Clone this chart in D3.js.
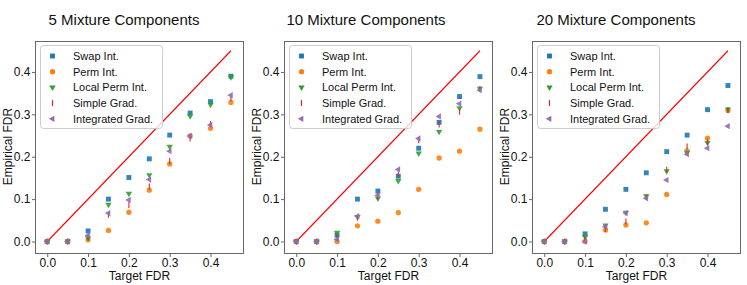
<!DOCTYPE html>
<html><head><meta charset="utf-8">
<script src="https://cdn.jsdelivr.net/npm/d3@7/dist/d3.min.js"></script>
<style>body{margin:0;background:#fff}svg{display:block;font-family:"Liberation Sans",Arial,sans-serif}</style>
</head><body><svg id="c" width="747" height="285"></svg>
<script>
// ---- data ----
const targetFDR = [0, 0.05, 0.1, 0.15, 0.2, 0.25, 0.3, 0.35, 0.4, 0.45];
const panelTitles = ["5 Mixture Components", "10 Mixture Components", "20 Mixture Components"];
const seriesNames = ["Swap Int.", "Perm Int.", "Local Perm Int.", "Simple Grad.", "Integrated Grad."];
const xTicks = [0, 0.1, 0.2, 0.3, 0.4];
const yTicks = [0, 0.1, 0.2, 0.3, 0.4];

// 5 mixture components
const swap5   = [0, 0, 0.025, 0.100, 0.151, 0.195, 0.251, 0.303, 0.330, 0.390];
const perm5   = [0, 0, 0.004, 0.026, 0.069, 0.121, 0.183, 0.249, 0.267, 0.328];
const local5  = [0, 0, 0.008, 0.087, 0.113, 0.157, 0.224, 0.296, 0.323, 0.388];
const simple5 = [0, 0, 0.012, 0.063, 0.086, 0.130, 0.190, 0.243, 0.277, 0.338];
const integ5  = [0, 0, 0.014, 0.067, 0.098, 0.146, 0.213, 0.249, 0.275, 0.345];
// 10 mixture components
const swap10   = [0, 0, 0.015, 0.100, 0.119, 0.154, 0.220, 0.281, 0.342, 0.389];
const perm10   = [0, 0, 0.000, 0.037, 0.048, 0.068, 0.123, 0.197, 0.213, 0.265];
const local10  = [0, 0, 0.021, 0.058, 0.102, 0.143, 0.208, 0.259, 0.315, 0.361];
const simple10 = [0, 0, 0.010, 0.056, 0.107, 0.158, 0.239, 0.276, 0.306, 0.360];
const integ10  = [0, 0, 0.005, 0.060, 0.109, 0.170, 0.243, 0.295, 0.325, 0.357];
// 20 mixture components
const swap20   = [0, 0, 0.018, 0.076, 0.123, 0.162, 0.212, 0.251, 0.311, 0.368];
const perm20   = [0, 0, 0.000, 0.027, 0.039, 0.044, 0.111, 0.214, 0.244, 0.309];
const local20  = [0, 0, 0.011, 0.038, 0.068, 0.107, 0.166, 0.210, 0.233, 0.312];
const simple20 = [0, 0, 0.005, 0.030, 0.047, 0.105, 0.169, 0.224, 0.235, 0.310];
const integ20  = [0, 0, 0.000, 0.035, 0.067, 0.102, 0.145, 0.206, 0.220, 0.272];

const panelData = [
  [swap5, perm5, local5, simple5, integ5],
  [swap10, perm10, local10, simple10, integ10],
  [swap20, perm20, local20, simple20, integ20]
];
const colors = ["#1f77b4", "#ff7f0e", "#2ca02c", "#d62728", "#9467bd"];
const diagonal = [0, 0.45];

// ---- layout ----
const svg = d3.select("#c");
const panelLeft = [35, 284, 532];
const panelW = 209, plotTop = 41, plotBottom = 254;
const titleX = [124, 366, 616];
const frameColor = "#666";

function marker(g, k, x, y, color) {
  if (k === 3) {
    g.append("line").attr("x1", x).attr("x2", x).attr("y1", y - 3).attr("y2", y + 3)
      .attr("stroke", color).attr("stroke-width", 1.2);
    return;
  }
  const types = [d3.symbolSquare, d3.symbolCircle, d3.symbolTriangle, null, d3.symbolTriangle];
  const sizes = [24, 22, 17, 0, 17];
  const rot = [0, 0, 180, 0, -90];
  g.append("path").attr("d", d3.symbol().type(types[k]).size(sizes[k])())
    .attr("transform", `translate(${x},${y}) rotate(${rot[k]})`)
    .attr("fill", color);
}

panelData.forEach((series, p) => {
  const L = panelLeft[p];
  const x = d3.scaleLinear().domain([-0.03, 0.482]).range([L, L + panelW]);
  const y = d3.scaleLinear().domain([-0.0295, 0.473]).range([plotBottom, plotTop]);
  const g = svg.append("g");

  // title
  g.append("text").attr("x", titleX[p]).attr("y", 25).attr("text-anchor", "middle")
    .attr("font-size", 15).attr("fill", "#111").text(panelTitles[p]);

  // axes
  const xa = g.append("g").attr("transform", `translate(0,${plotBottom})`)
    .call(d3.axisBottom(x).tickValues(xTicks).tickFormat(d3.format(".1f")).tickSize(3).tickPadding(1.2));
  const ya = g.append("g").attr("transform", `translate(${L},0)`)
    .call(d3.axisLeft(y).tickValues(yTicks).tickFormat(d3.format(".1f")).tickSize(3).tickPadding(1.5));
  [xa, ya].forEach(a => {
    a.select(".domain").remove();
    a.selectAll("line").attr("stroke", frameColor);
    a.selectAll("text").attr("font-size", 12).attr("fill", "#111")
      .attr("font-family", '"Liberation Sans",Arial,sans-serif');
  });

  // axis labels
  g.append("text").attr("x", L + panelW / 2).attr("y", 280).attr("text-anchor", "middle")
    .attr("font-size", 12).attr("fill", "#111").text("Target FDR");
  g.append("text").attr("transform", `translate(${L - 23},${(plotTop + plotBottom) / 2 - 1}) rotate(-90)`)
    .attr("text-anchor", "middle").attr("font-size", 12).attr("fill", "#111").text("Empirical FDR");

  // diagonal
  g.append("line").attr("x1", x(diagonal[0])).attr("y1", y(diagonal[0]))
    .attr("x2", x(diagonal[1])).attr("y2", y(diagonal[1]))
    .attr("stroke", "#ff0000").attr("stroke-width", 1.1);

  // points
  series.forEach((vals, k) => {
    const sg = g.append("g").attr("opacity", 0.9);
    vals.forEach((v, i) => marker(sg, k, x(targetFDR[i]), y(v), colors[k]));
  });

  // frame
  g.append("rect").attr("x", L + 0.5).attr("y", plotTop + 0.5).attr("width", panelW - 1).attr("height", plotBottom - plotTop - 1)
    .attr("fill", "none").attr("stroke", frameColor).attr("stroke-width", 1);

  // legend
  const lg = g.append("g");
  lg.append("rect").attr("x", L + 5.5).attr("y", 45.5).attr("width", 122).attr("height", 83).attr("rx", 3)
    .attr("fill", "#fff").attr("fill-opacity", 0.8).attr("stroke", "#ccc").attr("stroke-width", 1);
  seriesNames.forEach((name, k) => {
    const ry = 56 + k * 15.7;
    marker(lg, k, L + 17.5, ry, colors[k]);
    lg.append("text").attr("x", L + 38).attr("y", ry + 4).attr("font-size", 11).attr("fill", "#111").text(name);
  });
});
</script></body></html>
